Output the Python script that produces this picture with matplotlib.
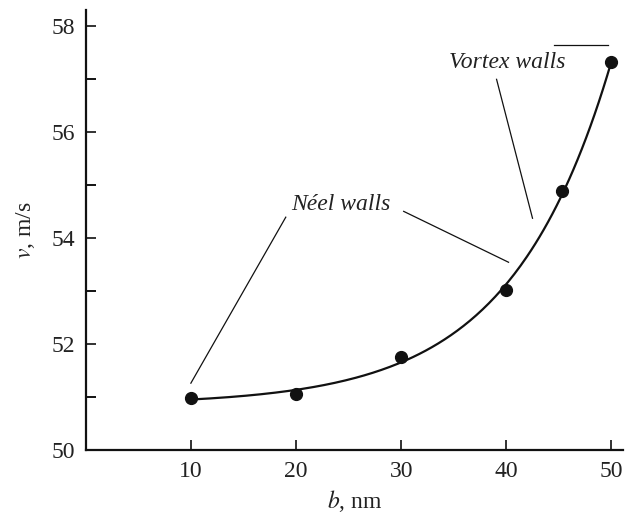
import numpy as np
import matplotlib.pyplot as plt

plt.rcParams['font.family'] = 'Liberation Serif'
plt.rcParams['mathtext.fontset'] = 'stix'

# measured wall velocity vs. strip width
b_nm = [10, 20, 30, 40, 45.3, 50]
v_ms = [50.98, 51.06, 51.75, 53.02, 54.89, 57.31]

x_ticks = [10, 20, 30, 40, 50]
y_ticks = [50, 52, 54, 56, 58]


def exp_fit(x, y):
    # least squares for v = a + c*exp(k*b), scanning k
    x = np.asarray(x, float)
    y = np.asarray(y, float)
    best = None
    for k in np.linspace(0.02, 0.3, 561):
        A = np.column_stack([np.ones_like(x), np.exp(k * x)])
        p, res, *_ = np.linalg.lstsq(A, y, rcond=None)
        err = np.sum((A @ p - y) ** 2)
        if best is None or err < best[0]:
            best = (err, k, p)
    return best[1], best[2]


fig = plt.figure(figsize=(6.37, 5.19), dpi=100)
ax = fig.add_axes([0.135, 0.133, 0.843, 0.848])

k, (a, c) = exp_fit(b_nm, v_ms)
xs = np.linspace(min(b_nm), max(b_nm), 200)
ax.plot(xs, a + c * np.exp(k * xs), color='#111111', lw=1.6)
ax.plot(b_nm, v_ms, 'o', color='#111111', ms=8.5)

# labels with leader lines
ax.text(24.24, 54.63, 'Néel walls', style='italic', fontsize=17,
        ha='center', va='center', color='#222222')
ax.plot([19.01, 9.98], [54.39, 51.26], color='#111111', lw=0.9)
ax.plot([30.23, 40.21], [54.50, 53.54], color='#111111', lw=0.9)

ax.text(40.11, 57.31, 'Vortex walls', style='italic', fontsize=17,
        ha='center', va='center', color='#222222')
ax.plot([39.07, 42.49], [56.99, 54.37], color='#111111', lw=0.9)
ax.plot([44.49, 49.71], [57.63, 57.63], color='#111111', lw=0.9)

ax.set_xlim(0, 51.1)
ax.set_ylim(50, 58.3)
ax.set_xticks(x_ticks)
ax.set_yticks(y_ticks)
ax.set_yticks([51, 53, 55, 57], minor=True)
ax.tick_params(direction='in', length=7, width=1.3, labelsize=17, pad=8,
               colors='#222222')
ax.tick_params(which='minor', direction='in', length=7, width=1.3)
for s in ['top', 'right']:
    ax.spines[s].set_visible(False)
for s in ['left', 'bottom']:
    ax.spines[s].set_linewidth(1.6)
    ax.spines[s].set_color('#111111')

ax.set_xlabel('$b$, nm', fontsize=17, color='#222222', labelpad=4)
ax.set_ylabel('$v$, m/s', fontsize=17, color='#222222', labelpad=10)

fig.savefig('out.png', dpi=100)
